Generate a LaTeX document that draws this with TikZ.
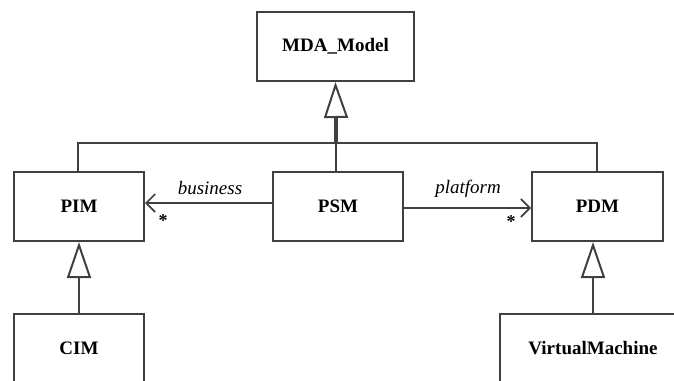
\documentclass[tikz,border=0pt]{standalone}
\usepackage{fontspec}
\setmainfont{Liberation Serif}
\usetikzlibrary{arrows.meta}
\definecolor{ln}{HTML}{404040}
\tikzset{
  cls/.style={draw=ln, line width=2pt, minimum height=69pt, inner sep=0pt, font=\fontsize{19}{22}\selectfont\bfseries, text=black},
  gen/.style={draw=ln, line width=2pt, -{Triangle[open, length=36pt, width=24pt, line width=2pt]}},
  assoc/.style={draw=ln, line width=2pt, -{Straight Barb[length=9pt, width=18pt, line width=1.6pt]}},
  plain/.style={draw=ln, line width=2pt},
  role/.style={font=\fontsize{19}{22}\selectfont\itshape, inner sep=0pt},
  mult/.style={font=\fontsize{18}{20}\selectfont\bfseries, inner sep=0pt}
}
\begin{document}
\begin{tikzpicture}[x=1pt,y=-1pt]
\clip (0,0) rectangle (674,380);
\fill[white] (0,0) rectangle (674,380);
\node[cls, minimum width=157pt] (MDA) at (335.5,46.5) {MDA\_Model};
\node[cls, minimum width=130pt] (PIM) at (79,206.5) {PIM};
\node[cls, minimum width=130pt] (PSM) at (338,206.5) {PSM};
\node[cls, minimum width=131pt] (PDM) at (597.5,206.5) {PDM};
\node[cls, minimum width=130pt] (CIM) at (79,348.5) {CIM};
\node[cls, minimum width=186pt] (VM) at (593,348.5) {VirtualMachine};
\coordinate (j) at (336,143);
\coordinate (jl) at (78,143);
\coordinate (jr) at (597,143);
\coordinate (tb) at (336,118);
\draw[plain] (PIM.north -| jl) -- (jl) -- (jr) -- (PDM.north -| jr);
\draw[plain] (PSM.north -| j) -- (j);
\draw[plain, line width=3.2pt] (j) -- (tb);
\draw[gen] (tb) -- (MDA.south);
\draw[gen] (CIM.north) -- (PIM.south);
\draw[gen] (VM.north) -- (VM.north |- PDM.south);
\draw[assoc] ([yshift=3.5pt]PSM.west) -- ([yshift=3.5pt]PIM.east);
\draw[assoc] ([yshift=-1.5pt]PSM.east) -- ([yshift=-1.5pt]PDM.west);
\node[role] (lb) at (210,188) {business};
\node[role] (lp) at (468,189) {platform};
\node[mult] (sb) at (163,221) {*};
\node[mult] (sp) at (511,222) {*};
\end{tikzpicture}
\end{document}
